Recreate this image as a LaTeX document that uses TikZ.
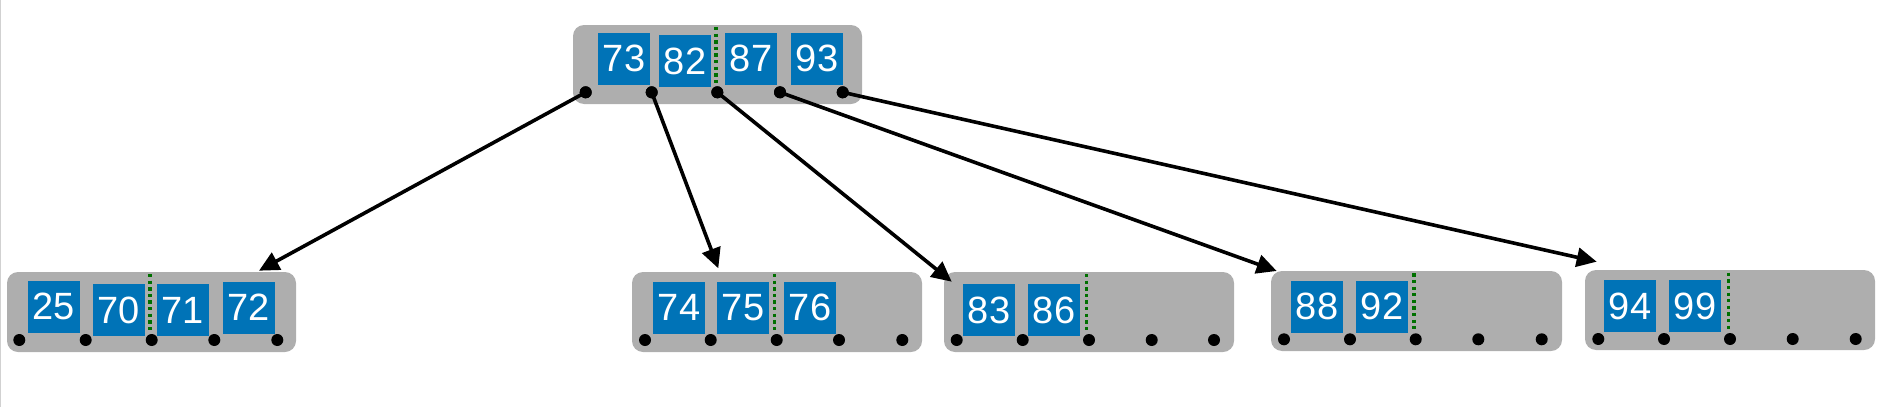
\documentclass[tikz,border=0pt]{standalone}
\usepackage{fontspec}
\setmainfont{Liberation Sans}
\usetikzlibrary{arrows.meta}
\definecolor{nodegrey}{RGB}{174,174,174}
\definecolor{keyblue}{RGB}{0,115,183}
\definecolor{sepgreen}{RGB}{0,112,0}
\tikzset{
  bnode/.style={fill=nodegrey, rounded corners=11pt},
  keybox/.style={fill=keyblue, text=white, minimum width=52pt, minimum height=52pt, inner sep=0pt,
    font=\fontsize{38}{38}\selectfont},
  sepline/.style={draw=sepgreen, line width=3.2pt, dash pattern=on 3.3pt off 3.3pt},
  ptr/.style={circle, fill=black, inner sep=0pt, minimum size=12pt},
  link/.style={draw=black, line width=3.6pt, -{Triangle[length=20pt,width=19pt]}}
}
\begin{document}
\begin{tikzpicture}[x=1pt,y=-1pt]
\useasboundingbox (0,0) rectangle (1884,407);
\draw[line width=1.2pt, draw=black!18] (0.6,0) -- (0.6,407);
% grey node bodies
\fill[bnode] (573,25) rectangle (862,104);
\fill[bnode] (7,272) rectangle (296,352);
\fill[bnode] (632,272) rectangle (922,352);
\fill[bnode] (944,272) rectangle (1234,352);
\fill[bnode] (1271,271) rectangle (1562,351);
\fill[bnode] (1585,270) rectangle (1875,350);
% separators
\draw[sepline] (716,27) -- (716,85);
\draw[sepline] (150,274) -- (150,333);
\draw[sepline] (774.3,274) -- (774.3,332);
\draw[sepline] (1086.7,274) -- (1086.7,332);
\draw[sepline] (1414,273.3) -- (1414,331);
\draw[sepline] (1728.3,272.7) -- (1728.3,330);
% keys
\node[keybox] (k73) at (624,58.5) {73};
\node[keybox] (k82) at (685,61) {82};
\node[keybox] (k87) at (751,58.5) {87};
\node[keybox] (k93) at (817,58.5) {93};
\node[keybox] (k25) at (54,306.7) {25};
\node[keybox] (k70) at (119,310) {70};
\node[keybox] (k71) at (183,310) {71};
\node[keybox] (k72) at (249,307.5) {72};
\node[keybox] (k74) at (679,307.5) {74};
\node[keybox] (k75) at (743,307.5) {75};
\node[keybox] (k76) at (810,307.5) {76};
\node[keybox] (k83) at (989,310) {83};
\node[keybox] (k86) at (1054,310) {86};
\node[keybox] (k88) at (1317,306.7) {88};
\node[keybox] (k92) at (1382,306.7) {92};
\node[keybox] (k94) at (1630,306) {94};
\node[keybox] (k99) at (1695,306) {99};
% arrow targets
\coordinate (t1) at (259,270.7);
\coordinate (t2) at (718.3,268.3);
\coordinate (t3) at (951.7,281.7);
\coordinate (t4) at (1276.7,271);
\coordinate (t5) at (1596.7,261.7);
% root pointers
\node[ptr] (r1) at (585.7,92.3) {};
\node[ptr] (r2) at (651.7,92.3) {};
\node[ptr] (r3) at (717.3,92.3) {};
\node[ptr] (r4) at (780,92.3) {};
\node[ptr] (r5) at (842.7,92.3) {};
\draw[link] (r1.center) -- (t1);
\draw[link] (r2.center) -- (t2);
\draw[link] (r3.center) -- (t3);
\draw[link] (r4.center) -- (t4);
\draw[link] (r5.center) -- (t5);
\foreach \x in {585.7,651.7,717.3,780,842.7}
  \node[ptr] at (\x,92.3) {};
% leaf pointers
\foreach \x [count=\i] in {19.3,85.7,151.7,214.3,277.3}
  \node[ptr] (a\i) at (\x,340) {};
\foreach \x [count=\i] in {645,710.7,776.7,839,902.3}
  \node[ptr] (b\i) at (\x,340) {};
\foreach \x [count=\i] in {956.7,1022.7,1089,1151.7,1214}
  \node[ptr] (c\i) at (\x,340) {};
\foreach \x [count=\i] in {1284,1350,1415.7,1478.3,1541.7}
  \node[ptr] (d\i) at (\x,339.3) {};
\foreach \x [count=\i] in {1598.3,1664,1730,1792.7,1855.7}
  \node[ptr] (e\i) at (\x,339) {};
\end{tikzpicture}
\end{document}
